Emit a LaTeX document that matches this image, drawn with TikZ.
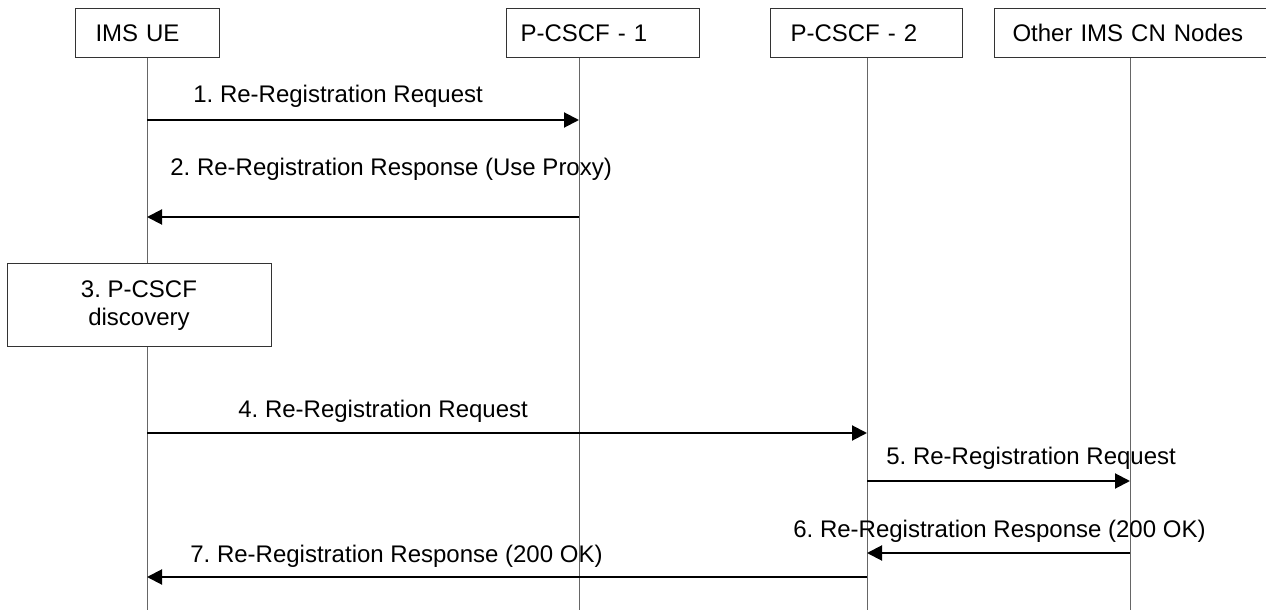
\documentclass[tikz,border=0pt]{standalone}
\usepackage{fontspec}
\setmainfont{Liberation Sans}
\frenchspacing
\usetikzlibrary{arrows.meta, positioning}

\begin{document}
\begin{tikzpicture}[
  x=0.5pt, y=-0.5pt,
  every node/.style={font=\fontsize{12}{14}\selectfont},
  entity/.style={draw=black!80, line width=0.5pt, minimum height=24.5pt, align=left, anchor=north west},
  lifeline/.style={draw=black!60, line width=0.5pt},
  msg/.style={-{Triangle[length=7.5pt, width=7.5pt]}, line width=1pt},
  msglabel/.style={anchor=base west, inner sep=0pt},
  procbox/.style={draw=black!80, line width=0.5pt, fill=white, align=center, minimum width=132pt, minimum height=41.5pt}
]
  \useasboundingbox (0,0) rectangle (1266,610);

  % Entities
  \node[entity, text width=52pt, inner xsep=10pt] (ue) at (75,8) {IMS UE};
  \node[entity, text width=82.5pt, inner xsep=7pt] (p1) at (506,8) {P-CSCF - 1};
  \node[entity, text width=76pt, inner xsep=10pt] (p2) at (770,8) {P-CSCF - 2};
  \node[entity, text width=134pt, inner xsep=9pt] (cn) at (994,8) {Other IMS CN Nodes};

  % Lifelines
  \coordinate (ueL) at (147,610);
  \coordinate (p1L) at (579,610);
  \coordinate (p2L) at (867,610);
  \coordinate (cnL) at (1130,610);
  \draw[lifeline] (ue.south -| ueL) -- (ueL);
  \draw[lifeline] (p1.south -| p1L) -- (p1L);
  \draw[lifeline] (p2.south -| p2L) -- (p2L);
  \draw[lifeline] (cn.south -| cnL) -- (cnL);

  % Message rows
  \coordinate (r1) at (0,120);
  \coordinate (r2) at (0,217);
  \coordinate (r4) at (0,433);
  \coordinate (r5) at (0,481);
  \coordinate (r6) at (0,553);
  \coordinate (r7) at (0,577);

  % 1
  \draw[msg] (ueL |- r1) -- (p1L |- r1);
  \node[msglabel] (m1) at (193,103) {1. Re-Registration Request};

  % 2
  \draw[msg] (p1L |- r2) -- (ueL |- r2);
  \node[msglabel] (m2) at (170,176) {2. Re-Registration Response (Use Proxy)};

  % 3
  \node[procbox] (disc) at (139,305.5) {3. P-CSCF\\discovery};

  % 4
  \draw[msg] (ueL |- r4) -- (p2L |- r4);
  \node[msglabel] (m4) at (238,417) {4. Re-Registration Request};

  % 5
  \draw[msg] (p2L |- r5) -- (cnL |- r5);
  \node[msglabel] (m5) at (886,465) {5. Re-Registration Request};

  % 6
  \draw[msg] (cnL |- r6) -- (p2L |- r6);
  \node[msglabel] (m6) at (793,537) {6. Re-Registration Response (200 OK)};

  % 7
  \draw[msg] (p2L |- r7) -- (ueL |- r7);
  \node[msglabel] (m7) at (190,562) {7. Re-Registration Response (200 OK)};
\end{tikzpicture}
\end{document}
